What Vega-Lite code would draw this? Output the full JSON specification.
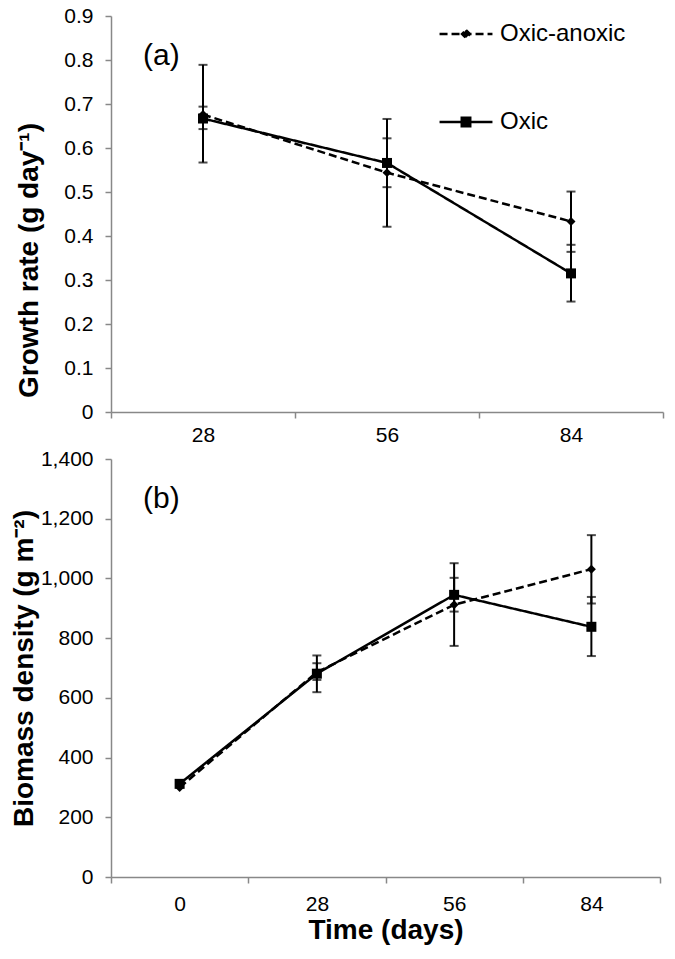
{
  "$schema": "https://vega.github.io/schema/vega-lite/v6.json",
  "background": "white",
  "padding": {"left": 10, "top": 5, "right": 10, "bottom": 5},
  "bounds": "flush",
  "spacing": 47,
  "config": {
    "view": {"stroke": null},
    "font": "Liberation Sans",
    "axis": {
      "domainColor": "#888888", "tickColor": "#888888", "domainWidth": 1.5, "tickWidth": 1.5, "tickSize": 6,
      "labelColor": "black", "labelFontSize": 21, "labelFont": "Liberation Sans",
      "titleFont": "Liberation Sans", "titleFontSize": 28, "titleFontWeight": "bold", "titleColor": "black",
      "grid": false, "labelPadding": 12
    }
  },
  "datasets": {
    "growth": [
      {"t": 28, "s": "Oxic-anoxic", "v": 0.676, "lo": 0.567, "hi": 0.789},
      {"t": 56, "s": "Oxic-anoxic", "v": 0.544, "lo": 0.421, "hi": 0.666},
      {"t": 84, "s": "Oxic-anoxic", "v": 0.433, "lo": 0.364, "hi": 0.501},
      {"t": 28, "s": "Oxic", "v": 0.667, "lo": 0.643, "hi": 0.694},
      {"t": 56, "s": "Oxic", "v": 0.566, "lo": 0.511, "hi": 0.622},
      {"t": 84, "s": "Oxic", "v": 0.315, "lo": 0.251, "hi": 0.38}
    ],
    "biomass": [
      {"t": 0, "s": "Oxic-anoxic", "v": 300, "lo": null, "hi": null},
      {"t": 28, "s": "Oxic-anoxic", "v": 686, "lo": 660, "hi": 716},
      {"t": 56, "s": "Oxic-anoxic", "v": 912, "lo": 774, "hi": 1051},
      {"t": 84, "s": "Oxic-anoxic", "v": 1031, "lo": 916, "hi": 1145},
      {"t": 0, "s": "Oxic", "v": 312, "lo": null, "hi": null},
      {"t": 28, "s": "Oxic", "v": 681, "lo": 619, "hi": 742},
      {"t": 56, "s": "Oxic", "v": 945, "lo": 889, "hi": 1002},
      {"t": 84, "s": "Oxic", "v": 838, "lo": 740, "hi": 938}
    ]
  },
  "resolve": {"scale": {"strokeDash": "independent", "x": "independent", "y": "independent"}, "legend": {"strokeDash": "independent"}},
  "vconcat": [
    {
      "width": 552,
      "height": 396,
      "data": {"name": "growth"},
      "title": {"text": "(a)", "anchor": "start", "frame": "group", "orient": "top", "offset": -90, "dx": 32, "baseline": "alphabetic", "fontSize": 30, "fontWeight": "normal", "font": "Liberation Sans", "color": "black"},
      "encoding": {
        "x": {"field": "t", "type": "ordinal", "scale": {"type": "band", "paddingInner": 0, "paddingOuter": 0},
              "axis": {"title": null, "labelAngle": 0, "tickBand": "extent", "labelPadding": 6}}
      },
      "layer": [
        {
          "mark": {"type": "line", "color": "black", "strokeWidth": 2.5},
          "encoding": {
            "y": {"field": "v", "type": "quantitative", "scale": {"domain": [0, 0.9], "nice": false},
                  "axis": {"title": "Growth rate (g day⁻¹)", "values": [0, 0.1, 0.2, 0.3, 0.4, 0.5, 0.6, 0.7, 0.8, 0.9], "format": ".1~f", "titlePadding": 20, "titleY": 244}},
            "strokeDash": {"field": "s", "type": "nominal",
              "scale": {"domain": ["Oxic-anoxic", "Oxic"], "range": [[8, 4], [1, 0]]},
              "legend": {
                "orient": "none", "legendX": 327, "legendY": -10, "title": null, "padding": 0,
                "labelFontSize": 24, "labelFont": "Liberation Sans", "labelColor": "black", "labelOffset": 6,
                "symbolSize": 2800, "symbolStrokeWidth": 2.5, "symbolStrokeColor": "black", "symbolFillColor": "black",
                "rowPadding": 48,
                "encode": {"symbols": {"update": {
                  "shape": {"signal": "datum.value === 'Oxic' ? 'M-1,0L1,0M-0.16,-0.16L0.16,-0.16L0.16,0.16L-0.16,0.16Z' : 'M-1,0L1,0M0,-0.15L0.15,0L0,0.15L-0.15,0Z'"},
                  "fill": {"value": "black"},
                  "stroke": {"value": "black"}
                }}}
              }}
          }
        },
        {
          "mark": {"type": "rule", "color": "black", "strokeWidth": 2},
          "encoding": {
            "y": {"field": "lo", "type": "quantitative"},
            "y2": {"field": "hi"}
          }
        },
        {
          "mark": {"type": "tick", "color": "black", "thickness": 2, "size": 9},
          "encoding": {"y": {"field": "lo", "type": "quantitative"}}
        },
        {
          "mark": {"type": "tick", "color": "black", "thickness": 2, "size": 9},
          "encoding": {"y": {"field": "hi", "type": "quantitative"}}
        },
        {
          "transform": [{"filter": "datum.s === 'Oxic-anoxic'"}],
          "mark": {"type": "point", "filled": true, "color": "black", "opacity": 1, "shape": "diamond", "size": 80},
          "encoding": {"y": {"field": "v", "type": "quantitative"}}
        },
        {
          "transform": [{"filter": "datum.s === 'Oxic'"}],
          "mark": {"type": "point", "filled": true, "color": "black", "opacity": 1, "shape": "square", "size": 100},
          "encoding": {"y": {"field": "v", "type": "quantitative"}}
        }
      ]
    },
    {
      "width": 549,
      "height": 418,
      "data": {"name": "biomass"},
      "title": {"text": "(b)", "anchor": "start", "frame": "group", "orient": "top", "offset": -90, "dx": 32, "baseline": "alphabetic", "fontSize": 30, "fontWeight": "normal", "font": "Liberation Sans", "color": "black"},
      "encoding": {
        "x": {"field": "t", "type": "ordinal", "scale": {"type": "band", "paddingInner": 0, "paddingOuter": 0},
              "axis": {"title": "Time (days)", "labelAngle": 0, "tickBand": "extent", "labelPadding": 10, "titlePadding": 2}}
      },
      "layer": [
        {
          "mark": {"type": "line", "color": "black", "strokeWidth": 2.5},
          "encoding": {
            "y": {"field": "v", "type": "quantitative", "scale": {"domain": [0, 1400], "nice": false},
                  "axis": {"title": "Biomass density (g m⁻²)", "values": [0, 200, 400, 600, 800, 1000, 1200, 1400], "format": ",.0f", "titlePadding": 2}},
            "strokeDash": {"field": "s", "type": "nominal",
              "scale": {"domain": ["Oxic-anoxic", "Oxic"], "range": [[8, 4], [1, 0]]}, "legend": null}
          }
        },
        {
          "transform": [{"filter": "datum.lo != null"}],
          "mark": {"type": "rule", "color": "black", "strokeWidth": 2},
          "encoding": {
            "y": {"field": "lo", "type": "quantitative"},
            "y2": {"field": "hi"}
          }
        },
        {
          "transform": [{"filter": "datum.lo != null"}],
          "mark": {"type": "tick", "color": "black", "thickness": 2, "size": 9},
          "encoding": {"y": {"field": "lo", "type": "quantitative"}}
        },
        {
          "transform": [{"filter": "datum.hi != null"}],
          "mark": {"type": "tick", "color": "black", "thickness": 2, "size": 9},
          "encoding": {"y": {"field": "hi", "type": "quantitative"}}
        },
        {
          "transform": [{"filter": "datum.s === 'Oxic-anoxic'"}],
          "mark": {"type": "point", "filled": true, "color": "black", "opacity": 1, "shape": "diamond", "size": 80},
          "encoding": {"y": {"field": "v", "type": "quantitative"}}
        },
        {
          "transform": [{"filter": "datum.s === 'Oxic'"}],
          "mark": {"type": "point", "filled": true, "color": "black", "opacity": 1, "shape": "square", "size": 100},
          "encoding": {"y": {"field": "v", "type": "quantitative"}}
        }
      ]
    }
  ]
}
